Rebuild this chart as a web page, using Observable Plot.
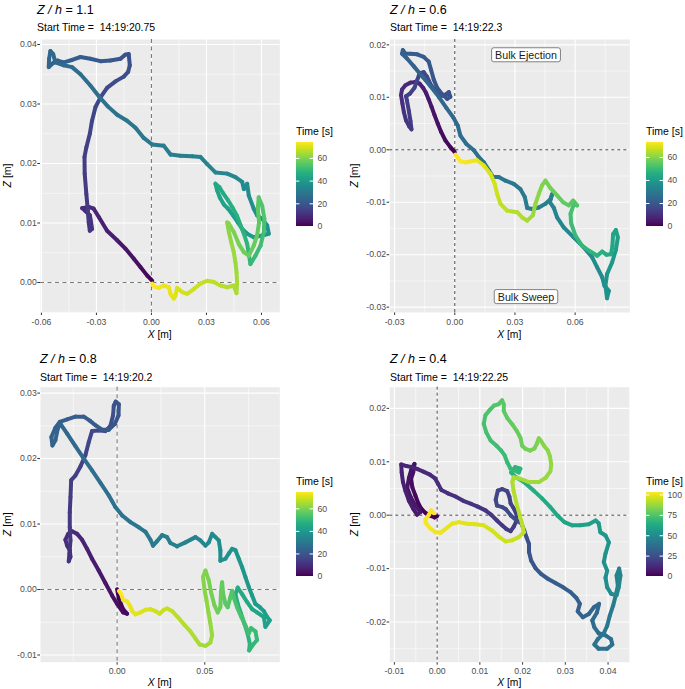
<!DOCTYPE html>
<html><head><meta charset="utf-8">
<script src="https://cdn.jsdelivr.net/npm/d3@7"></script>
<script src="https://cdn.jsdelivr.net/npm/@observablehq/plot@0.6"></script>
<style>
html,body{margin:0;padding:0;background:#fff;}
#page{position:relative;width:685px;height:689px;overflow:hidden;font-family:"Liberation Sans",Arial,Helvetica,sans-serif;}
#page g[aria-label^="x-axis"] text, #page g[aria-label^="y-axis"] text{fill:#4d4d4d;}
</style></head><body><div id="page"></div>
<script>
// ---------- DATA: trajectories [X (m), Z (m), time (s)] ----------
const track11 = [[0.0004,0.0003,0],[-0.0024,0.0012,1],[-0.0060,0.0026,2],[-0.0096,0.0040,3],[-0.0142,0.0057,4],[-0.0187,0.0071,5],[-0.0242,0.0087,6],[-0.0287,0.0110,7],[-0.0315,0.0124,8],[-0.0342,0.0127,8.5],[-0.0378,0.0125,9],[-0.0360,0.0120,9.5],[-0.0336,0.0113,10],[-0.0329,0.0101,10.5],[-0.0324,0.0090,11],[-0.0336,0.0087,11.3],[-0.0342,0.0101,11.6],[-0.0347,0.0121,12],[-0.0355,0.0149,12.5],[-0.0364,0.0183,13],[-0.0365,0.0211,13.5],[-0.0355,0.0227,14],[-0.0336,0.0250,14.5],[-0.0324,0.0272,15],[-0.0305,0.0295,15.5],[-0.0278,0.0311,16],[-0.0242,0.0327,16.5],[-0.0196,0.0338,17],[-0.0151,0.0346,17.5],[-0.0127,0.0354,18],[-0.0118,0.0365,18.3],[-0.0124,0.0384,18.6],[-0.0142,0.0383,19],[-0.0169,0.0376,19.5],[-0.0224,0.0373,20],[-0.0278,0.0372,20.5],[-0.0333,0.0376,21],[-0.0387,0.0379,21.5],[-0.0433,0.0374,22],[-0.0478,0.0370,22.3],[-0.0511,0.0373,22.6],[-0.0536,0.0369,23],[-0.0560,0.0362,23.3],[-0.0558,0.0376,23.6],[-0.0551,0.0389,24],[-0.0536,0.0384,24.3],[-0.0524,0.0370,24.6],[-0.0478,0.0365,25],[-0.0433,0.0362,25.5],[-0.0387,0.0350,26],[-0.0333,0.0331,26.5],[-0.0287,0.0313,27],[-0.0238,0.0296,27.5],[-0.0187,0.0282,28],[-0.0133,0.0272,28.5],[-0.0087,0.0260,29],[-0.0042,0.0243,29.5],[0.0004,0.0232,30],[0.0067,0.0230,30.5],[0.0104,0.0215,31],[0.0158,0.0213,31.5],[0.0222,0.0212,32],[0.0267,0.0211,32.5],[0.0304,0.0199,33],[0.0349,0.0185,33.5],[0.0413,0.0183,34],[0.0458,0.0177,34.5],[0.0495,0.0169,35],[0.0504,0.0157,35.3],[0.0522,0.0166,35.6],[0.0531,0.0146,36],[0.0558,0.0124,36.5],[0.0576,0.0113,37],[0.0604,0.0107,37.5],[0.0631,0.0096,38],[0.0640,0.0082,38.5],[0.0604,0.0079,39],[0.0558,0.0076,39.5],[0.0522,0.0082,40],[0.0495,0.0090,40.5],[0.0471,0.0101,41],[0.0445,0.0113,41.5],[0.0418,0.0124,42],[0.0395,0.0131,42.5],[0.0373,0.0143,43],[0.0358,0.0155,43.5],[0.0349,0.0166,44],[0.0371,0.0160,44.5],[0.0391,0.0150,45],[0.0416,0.0139,45.5],[0.0444,0.0125,46],[0.0467,0.0112,46.5],[0.0485,0.0097,47],[0.0504,0.0082,47.5],[0.0522,0.0065,48],[0.0531,0.0048,48.5],[0.0540,0.0031,49],[0.0567,0.0045,50],[0.0595,0.0062,51],[0.0613,0.0085,52],[0.0616,0.0107,53],[0.0604,0.0129,54],[0.0585,0.0143,54.5],[0.0580,0.0124,55],[0.0587,0.0101,55.5],[0.0576,0.0079,56],[0.0558,0.0062,56.5],[0.0531,0.0045,57],[0.0504,0.0051,57.5],[0.0476,0.0065,58],[0.0449,0.0085,59],[0.0422,0.0099,60],[0.0413,0.0101,60.5],[0.0422,0.0085,61],[0.0435,0.0068,62],[0.0449,0.0051,62.5],[0.0458,0.0034,63],[0.0464,0.0017,63.5],[0.0467,0.0001,64],[0.0464,-0.0018,64.5],[0.0449,-0.0005,65],[0.0413,-0.0008,65.5],[0.0376,-0.0005,66],[0.0340,0.0001,66.5],[0.0304,0.0003,67],[0.0267,-0.0002,67.5],[0.0231,-0.0011,68],[0.0195,-0.0019,68.5],[0.0167,-0.0016,69],[0.0140,-0.0009,69.5],[0.0131,-0.0022,70],[0.0122,-0.0027,70.5],[0.0104,-0.0019,71],[0.0095,-0.0008,71.5],[0.0067,-0.0005,72],[0.0040,-0.0009,72.5],[0.0016,-0.0007,73],[0.0004,-0.0002,74]];

const track06 = [[0.0000,-0.00045,0],[-0.0022,0.0005,0.7],[-0.0047,0.0018,1.4],[-0.0068,0.0034,2.1],[-0.0085,0.0050,2.8],[-0.0101,0.0066,3.5],[-0.0116,0.0082,4.2],[-0.0130,0.0096,4.8],[-0.0143,0.0108,5.4],[-0.0158,0.0118,6],[-0.0175,0.0126,6.6],[-0.0196,0.0129,7.2],[-0.0221,0.0128,7.8],[-0.0246,0.0123,8.4],[-0.0263,0.0115,9],[-0.0268,0.0104,9.5],[-0.0261,0.0088,10],[-0.0254,0.0072,10.5],[-0.0243,0.0056,11],[-0.0228,0.0045,11.5],[-0.0216,0.0039,12],[-0.0221,0.0055,12.4],[-0.0229,0.0074,12.8],[-0.0238,0.0093,13.2],[-0.0243,0.0102,13.6],[-0.0224,0.0107,14],[-0.0201,0.0118,14.4],[-0.0188,0.0132,14.8],[-0.0175,0.0146,15.2],[-0.0155,0.0148,15.6],[-0.0138,0.0139,16],[-0.0118,0.0123,16.4],[-0.0091,0.0110,16.8],[-0.0063,0.0103,17.2],[-0.0042,0.0106,17.6],[-0.0030,0.0110,18],[-0.0022,0.0101,18.3],[-0.0038,0.0097,18.6],[-0.0063,0.0106,18.9],[-0.0088,0.0118,19.2],[-0.0105,0.0134,19.5],[-0.0118,0.0152,19.8],[-0.0130,0.0168,20.1],[-0.0155,0.0177,20.4],[-0.0188,0.0182,20.7],[-0.0221,0.0183,21],[-0.0246,0.0183,21.3],[-0.0259,0.0190,21.6],[-0.0263,0.0183,21.9],[-0.0238,0.0174,22.2],[-0.0204,0.0159,22.6],[-0.0163,0.0140,23],[-0.0121,0.0121,23.4],[-0.0080,0.0101,23.8],[-0.0042,0.0080,24.2],[-0.0008,0.0062,24.6],[0.0015,0.0046,25],[0.0028,0.0027,25.4],[0.0058,0.0011,25.8],[0.0095,-0.0001,26.2],[0.0120,-0.0014,26.6],[0.0145,-0.0024,27],[0.0170,-0.0039,27.4],[0.0191,-0.0052,27.8],[0.0219,-0.0052,28.2],[0.0253,-0.0059,28.6],[0.0294,-0.0065,29],[0.0327,-0.0075,29.4],[0.0349,-0.0090,29.8],[0.0361,-0.0111,30.2],[0.0386,-0.0113,30.6],[0.0419,-0.0110,31],[0.0452,-0.0103,31.4],[0.0477,-0.0094,31.8],[0.0485,-0.0085,32.1],[0.0474,-0.0100,32.4],[0.0494,-0.0111,32.7],[0.0510,-0.0129,33],[0.0543,-0.0148,33.4],[0.0593,-0.0167,33.8],[0.0643,-0.0186,34.2],[0.0685,-0.0205,34.6],[0.0710,-0.0224,35],[0.0735,-0.0243,35.4],[0.0746,-0.0259,35.8],[0.0768,-0.0269,36.2],[0.0759,-0.0283,36.6],[0.0751,-0.0259,37.2],[0.0759,-0.0237,38],[0.0784,-0.0215,39],[0.0803,-0.0191,40],[0.0813,-0.0167,41],[0.0803,-0.0153,41.8],[0.0789,-0.0161,42.6],[0.0786,-0.0183,43.4],[0.0779,-0.0199,44.2],[0.0756,-0.0200,45],[0.0735,-0.0194,45.8],[0.0710,-0.0202,46.6],[0.0676,-0.0194,47.4],[0.0635,-0.0183,48.2],[0.0602,-0.0164,49],[0.0580,-0.0140,50],[0.0577,-0.0122,51],[0.0593,-0.0104,52],[0.0610,-0.0106,52.8],[0.0590,-0.0097,53.6],[0.0568,-0.0106,54.4],[0.0540,-0.0100,55.2],[0.0510,-0.0087,56],[0.0477,-0.0073,57],[0.0452,-0.0059,58],[0.0435,-0.0068,59],[0.0419,-0.0084,60],[0.0402,-0.0103,61],[0.0389,-0.0125,62],[0.0361,-0.0135,63],[0.0336,-0.0129,63.8],[0.0311,-0.0119,64.6],[0.0261,-0.0116,65.4],[0.0228,-0.0103,66.2],[0.0211,-0.0084,67],[0.0199,-0.0065,67.8],[0.0178,-0.0046,68.6],[0.0145,-0.0030,69.4],[0.0111,-0.0020,70.2],[0.0081,-0.0022,71],[0.0053,-0.0024,71.8],[0.0028,-0.0022,72.5],[0.0003,-0.0009,73]];

const track08 = [[0,0.00005,0],[0.0010,-0.0014,0.5],[0.0034,-0.0030,1],[0.0057,-0.0037,1.5],[0.0034,-0.0035,2],[0,-0.0022,2.5],[-0.0029,-0.0009,3],[-0.0067,0.0010,4],[-0.0105,0.0029,5],[-0.0143,0.0047,6],[-0.0171,0.0062,6.8],[-0.0200,0.0076,7.5],[-0.0228,0.0085,8],[-0.0257,0.0089,8.5],[-0.0279,0.0085,9],[-0.0295,0.0076,9.3],[-0.0285,0.0067,9.6],[-0.0270,0.0060,10],[-0.0266,0.0050,10.3],[-0.0276,0.0043,10.6],[-0.0272,0.0055,11],[-0.0266,0.0075,11.5],[-0.0270,0.0095,12],[-0.0270,0.0118,12.5],[-0.0266,0.0141,13],[-0.0262,0.0167,13.5],[-0.0238,0.0174,14],[-0.0209,0.0188,14.5],[-0.0181,0.0205,15],[-0.0162,0.0225,15.5],[-0.0143,0.0242,16],[-0.0105,0.0243,16.5],[-0.0067,0.0242,17],[-0.0038,0.0250,17.5],[-0.0023,0.0266,18],[-0.0019,0.0281,18.4],[-0.0008,0.0287,18.8],[0.0010,0.0283,19.1],[0.0008,0.0266,19.4],[-0.0013,0.0253,19.7],[-0.0048,0.0244,20],[-0.0086,0.0244,20.3],[-0.0124,0.0251,20.6],[-0.0156,0.0258,21],[-0.0190,0.0264,21.3],[-0.0238,0.0264,21.6],[-0.0285,0.0260,22],[-0.0327,0.0256,22.3],[-0.0352,0.0247,22.6],[-0.0375,0.0233,23],[-0.0369,0.0220,23.3],[-0.0352,0.0228,23.6],[-0.0338,0.0246,24],[-0.0323,0.0253,24.3],[-0.0285,0.0238,24.8],[-0.0238,0.0219,25.3],[-0.0190,0.0200,25.8],[-0.0143,0.0182,26.3],[-0.0095,0.0163,26.8],[-0.0048,0.0144,27.3],[-0.0010,0.0126,27.8],[0.0029,0.0113,28.3],[0.0076,0.0103,28.8],[0.0124,0.0095,29.3],[0.0162,0.0088,29.8],[0.0190,0.0076,30.3],[0.0205,0.0067,30.6],[0.0228,0.0074,31],[0.0257,0.0083,31.4],[0.0285,0.0080,31.8],[0.0304,0.0071,32.2],[0.0342,0.0066,32.6],[0.0390,0.0072,33],[0.0447,0.0080,33.5],[0.0475,0.0075,34],[0.0504,0.0067,34.4],[0.0523,0.0072,34.8],[0.0542,0.0085,35.2],[0.0561,0.0080,35.6],[0.0580,0.0075,36],[0.0589,0.0060,36.4],[0.0589,0.0044,36.8],[0.0618,0.0047,37.2],[0.0637,0.0055,37.6],[0.0656,0.0062,38],[0.0675,0.0060,38.4],[0.0694,0.0047,38.8],[0.0713,0.0034,39.2],[0.0732,0.0019,39.6],[0.0751,0.0004,40],[0.0770,-0.0009,40.4],[0.0789,-0.0022,40.8],[0.0814,-0.0027,41.2],[0.0837,-0.0033,41.6],[0.0856,-0.0042,42],[0.0871,-0.0047,42.4],[0.0846,-0.0057,42.8],[0.0837,-0.0042,43.2],[0.0798,-0.0035,43.6],[0.0770,-0.0030,44],[0.0741,-0.0019,44.5],[0.0713,-0.0007,45],[0.0688,0.0003,45.5],[0.0675,-0.0007,46],[0.0688,-0.0022,46.5],[0.0707,-0.0037,47],[0.0726,-0.0052,47.5],[0.0745,-0.0068,48],[0.0757,-0.0083,48.5],[0.0753,-0.0093,49],[0.0776,-0.0084,49.5],[0.0798,-0.0077,50],[0.0789,-0.0064,50.5],[0.0764,-0.0059,51],[0.0751,-0.0067,51.5],[0.0732,-0.0055,52],[0.0707,-0.0041,52.5],[0.0684,-0.0027,53],[0.0665,-0.0012,53.5],[0.0656,-0.0002,54],[0.0646,-0.0012,54.5],[0.0631,-0.0027,55],[0.0618,-0.0022,55.5],[0.0605,-0.0007,56],[0.0599,0.0011,56.5],[0.0593,-0.0002,57],[0.0589,-0.0027,57.5],[0.0574,-0.0035,58],[0.0555,-0.0024,58.5],[0.0536,-0.0004,59],[0.0523,0.0014,59.5],[0.0504,0.0029,60],[0.0490,0.0019,60.5],[0.0498,0.0001,61],[0.0510,-0.0017,61.5],[0.0521,-0.0035,62],[0.0532,-0.0052,62.5],[0.0542,-0.0070,63],[0.0532,-0.0081,63.5],[0.0504,-0.0086,64],[0.0471,-0.0084,64.5],[0.0447,-0.0075,65],[0.0418,-0.0064,65.5],[0.0384,-0.0054,66],[0.0346,-0.0042,66.5],[0.0314,-0.0033,67],[0.0285,-0.0029,67.5],[0.0266,-0.0031,68],[0.0243,-0.0037,68.5],[0.0219,-0.0033,69],[0.0190,-0.0030,69.5],[0.0162,-0.0031,70],[0.0133,-0.0035,70.5],[0.0105,-0.0038,71],[0.0086,-0.0033,71.5],[0.0072,-0.0024,72],[0.0057,-0.0018,72.5],[0.0034,-0.0016,73],[0.0023,-0.0007,73.5],[0.0010,-0.0002,74.5]];

const track04 = [[0,-0.0002,0],[-0.0006,-0.0004,0.4],[-0.0016,-0.0001,0.9],[-0.0027,0.0004,1.3],[-0.0037,0.0012,1.7],[-0.0044,0.0022,2.2],[-0.0051,0.0037,2.6],[-0.0058,0.0052,3],[-0.0061,0.0068,3.5],[-0.0056,0.0080,3.9],[-0.0053,0.0096,4.3],[-0.0060,0.0087,4.8],[-0.0066,0.0070,5.2],[-0.0070,0.0051,5.6],[-0.0062,0.0034,6.1],[-0.0051,0.0018,6.5],[-0.0039,0.0006,6.9],[-0.0047,0.0001,7.4],[-0.0056,0.0012,7.8],[-0.0066,0.0027,8.2],[-0.0074,0.0045,8.7],[-0.0080,0.0062,9.1],[-0.0083,0.0080,9.5],[-0.0084,0.0095,10],[-0.0072,0.0092,10.5],[-0.0059,0.0090,10.9],[-0.0045,0.0086,11.3],[-0.0031,0.0081,11.7],[-0.0017,0.0076,12.1],[-0.0005,0.0069,12.5],[0.0002,0.0059,12.9],[0.0010,0.0047,13.3],[0.0025,0.0041,13.7],[0.0043,0.0035,14.1],[0.0061,0.0027,14.5],[0.0080,0.0021,14.9],[0.0095,0.0016,15.3],[0.0113,0.0009,15.7],[0.0126,0.0001,16.1],[0.0140,-0.0010,16.5],[0.0152,-0.0019,16.9],[0.0162,-0.0026,17.3],[0.0172,-0.0030,17.7],[0.0179,-0.0022,18.1],[0.0185,-0.0012,18.5],[0.0186,0.0001,18.9],[0.0179,0.0013,19.3],[0.0172,0.0022,19.7],[0.0169,0.0035,20.1],[0.0164,0.0045,20.5],[0.0152,0.0049,20.9],[0.0142,0.0046,21.3],[0.0137,0.0029,21.7],[0.0140,0.0018,22.1],[0.0153,0.0015,22.5],[0.0161,0.0011,22.9],[0.0173,-0.0001,23.3],[0.0186,-0.0010,23.7],[0.0197,-0.0015,24.1],[0.0204,-0.0029,24.6],[0.0209,-0.0041,25.2],[0.0215,-0.0054,25.8],[0.0215,-0.0069,26.4],[0.0220,-0.0085,27],[0.0230,-0.0099,27.6],[0.0243,-0.0110,28.2],[0.0259,-0.0119,28.8],[0.0277,-0.0127,29.4],[0.0295,-0.0135,30],[0.0312,-0.0144,30.6],[0.0326,-0.0155,31.2],[0.0334,-0.0166,31.8],[0.0329,-0.0180,32.3],[0.0341,-0.0191,32.8],[0.0355,-0.0185,33.3],[0.0367,-0.0172,33.8],[0.0379,-0.0166,34.3],[0.0374,-0.0182,34.8],[0.0363,-0.0197,35.3],[0.0368,-0.0210,35.8],[0.0378,-0.0221,36.3],[0.0394,-0.0225,36.8],[0.0407,-0.0232,37.3],[0.0410,-0.0242,37.8],[0.0398,-0.0250,38.3],[0.0378,-0.0250,38.8],[0.0368,-0.0242,39.3],[0.0376,-0.0232,39.8],[0.0390,-0.0221,40.3],[0.0398,-0.0207,41],[0.0404,-0.0188,41.8],[0.0412,-0.0169,42.6],[0.0418,-0.0150,43.4],[0.0423,-0.0132,44.2],[0.0420,-0.0113,45],[0.0426,-0.0100,45.8],[0.0429,-0.0113,46.6],[0.0425,-0.0135,47.4],[0.0420,-0.0150,48.2],[0.0407,-0.0147,49],[0.0398,-0.0135,49.8],[0.0394,-0.0117,50.6],[0.0398,-0.0104,51.4],[0.0390,-0.0088,52.2],[0.0394,-0.0072,53],[0.0402,-0.0051,53.8],[0.0394,-0.0038,54.6],[0.0382,-0.0032,55.4],[0.0378,-0.0015,56.2],[0.0371,-0.0010,57],[0.0355,-0.0017,57.8],[0.0335,-0.0019,58.6],[0.0316,-0.0019,59.4],[0.0298,-0.0013,60.2],[0.0282,-0.0001,61],[0.0265,0.0015,61.8],[0.0246,0.0031,62.6],[0.0226,0.0046,63.4],[0.0203,0.0062,64.2],[0.0183,0.0072,65],[0.0173,0.0080,65.8],[0.0183,0.0090,66.5],[0.0195,0.0087,67.2],[0.0191,0.0080,67.9],[0.0172,0.0087,68.6],[0.0164,0.0099,69.2],[0.0158,0.0112,69.8],[0.0150,0.0121,70.4],[0.0139,0.0130,71],[0.0125,0.0140,71.6],[0.0115,0.0155,72.2],[0.0109,0.0171,72.8],[0.0113,0.0187,73.4],[0.0122,0.0196,74],[0.0133,0.0205,74.6],[0.0144,0.0208,75.2],[0.0152,0.0215,75.8],[0.0156,0.0207,76.4],[0.0156,0.0195,77],[0.0164,0.0182,77.6],[0.0176,0.0170,78.2],[0.0187,0.0157,78.8],[0.0195,0.0145,79.4],[0.0199,0.0130,80],[0.0207,0.0124,80.6],[0.0218,0.0121,81.2],[0.0228,0.0125,81.8],[0.0234,0.0135,82.4],[0.0238,0.0144,83],[0.0243,0.0139,83.6],[0.0251,0.0129,84.2],[0.0259,0.0121,84.8],[0.0264,0.0110,85.4],[0.0267,0.0095,86],[0.0265,0.0082,86.6],[0.0254,0.0070,87.2],[0.0238,0.0062,87.8],[0.0215,0.0062,88.4],[0.0195,0.0068,89],[0.0179,0.0071,89.6],[0.0176,0.0062,90.2],[0.0179,0.0045,90.8],[0.0186,0.0021,91.4],[0.0193,0.0001,92],[0.0199,-0.0017,92.6],[0.0203,-0.0032,93.2],[0.0191,-0.0041,93.8],[0.0176,-0.0047,94.4],[0.0160,-0.0049,95],[0.0144,-0.0040,95.6],[0.0129,-0.0029,96.2],[0.0109,-0.0019,96.8],[0.0090,-0.0017,97.4],[0.0070,-0.0016,98],[0.0051,-0.0013,98.5],[0.0035,-0.0016,99],[0.0022,-0.0024,99.5],[0.0008,-0.0033,100],[-0.0004,-0.0032,100.5],[-0.0017,-0.0024,101],[-0.0027,-0.0014,101.5],[-0.0027,-0.0007,102],[-0.0019,0.0001,102.4],[-0.0014,0.0009,102.8],[-0.0008,0.0004,103]];

// ---------- DATA: labels, axes, ticks ----------
const zOverH = ["1.1", "0.6", "0.8", "0.4"];
const startTimes = ["14:19:20.75", "14:19:22.3", "14:19:20.2", "14:19:22.25"];
const notes06Label = ["Bulk Ejection", "Bulk Sweep"];
const notes06X = [0.0355, 0.0355];
const notes06Z = [0.0180, -0.0281];

const xDomain11 = [-0.0605, 0.0700], yDomain11 = [-0.00504, 0.04084];
const xDomain06 = [-0.0324, 0.08725], yDomain06 = [-0.03102, 0.02102];
const xDomain08 = [-0.0437, 0.0928], yDomain08 = [-0.0111, 0.0309];
const xDomain04 = [-0.01108, 0.04509], yDomain04 = [-0.02752, 0.02396];

const xMajor11 = [-0.06, -0.03, 0, 0.03, 0.06], xMinor11 = [-0.045, -0.015, 0.015, 0.045];
const yMajor11 = [0, 0.01, 0.02, 0.03, 0.04], yMinor11 = [-0.005, 0.005, 0.015, 0.025, 0.035];
const xMajor06 = [-0.03, 0, 0.03, 0.06], xMinor06 = [-0.015, 0.015, 0.045, 0.075];
const yMajor06 = [-0.03, -0.02, -0.01, 0, 0.01, 0.02], yMinor06 = [-0.025, -0.015, -0.005, 0.005, 0.015];
const xMajor08 = [0, 0.05], xMinor08 = [-0.025, 0.025, 0.075];
const yMajor08 = [-0.01, 0, 0.01, 0.02, 0.03], yMinor08 = [-0.005, 0.005, 0.015, 0.025];
const xMajor04 = [-0.01, 0, 0.01, 0.02, 0.03, 0.04], xMinor04 = [-0.005, 0.005, 0.015, 0.025, 0.035, 0.045];
const yMajor04 = [-0.02, -0.01, 0, 0.01, 0.02], yMinor04 = [-0.025, -0.015, -0.005, 0.005, 0.015];

const legendTicks70 = [0, 20, 40, 60];
const legendTicks100 = [0, 25, 50, 75, 100];

// ---------- RENDER ----------
const W = 685, H = 689;
const FONT = '"Liberation Sans", Arial, Helvetica, sans-serif';
const page = document.getElementById("page");
const fmt2 = d => d.toFixed(2);

function segmentsOf(track) {
  const out = [];
  for (let i = 1; i < track.length; i++) {
    const a = track[i - 1], b = track[i];
    out.push({x1: a[0], y1: a[1], x2: b[0], y2: b[1], t: (a[2] + b[2]) / 2});
  }
  return out;
}
function place(el, left, top) {
  el.style.position = "absolute";
  el.style.left = left + "px";
  el.style.top = top + "px";
  page.appendChild(el);
  return el;
}

const panels = [
  {track: track11, h: zOverH[0], start: startTimes[0], xd: xDomain11, yd: yDomain11, xM: xMajor11, xm: xMinor11, yM: yMajor11, ym: yMinor11, lt: legendTicks70,
   box: {left: 0, top: 0, width: 290, height: 340, mL: 40, mR: 10.7, mT: 39, mB: 28}, leg: {left: 296, top: 138},
   tx: 37, ty: 14, sy: 30.7, xt: [159.7, 337.5], yt: [10.5, 175.5], lty: 135, ltx: 296, dark: false},
  {track: track06, h: zOverH[1], start: startTimes[1], xd: xDomain06, yd: yDomain06, xM: xMajor06, xm: xMinor06, yM: yMajor06, ym: yMinor06, lt: legendTicks70,
   box: {left: 345, top: 0, width: 295, height: 340, mL: 44.3, mR: 10.7, mT: 39, mB: 28}, leg: {left: 646, top: 138},
   tx: 390, ty: 14, sy: 30.7, xt: [509.3, 337.5], yt: [358.3, 175.5], lty: 135, ltx: 646, dark: true,
   notes: notes06Label.map((label, i) => ({label, x: notes06X[i], z: notes06Z[i]}))},
  {track: track08, h: zOverH[2], start: startTimes[2], xd: xDomain08, yd: yDomain08, xM: xMajor08, xm: xMinor08, yM: yMajor08, ym: yMinor08, lt: legendTicks70,
   box: {left: 0, top: 345, width: 290, height: 344, mL: 40, mR: 10.7, mT: 41.7, mB: 27.3}, leg: {left: 296, top: 487.7},
   tx: 40, ty: 363.3, sy: 380.7, xt: [159.7, 686.3], yt: [10.5, 524.2], lty: 485, ltx: 296, dark: false},
  {track: track04, h: zOverH[3], start: startTimes[3], xd: xDomain04, yd: yDomain04, xM: xMajor04, xm: xMinor04, yM: yMajor04, ym: yMinor04, lt: legendTicks100,
   box: {left: 345, top: 345, width: 295, height: 344, mL: 44.3, mR: 10.7, mT: 41.7, mB: 27.3}, leg: {left: 646, top: 487.7},
   tx: 390, ty: 363.3, sy: 380.7, xt: [509.3, 686.3], yt: [358.3, 524.2], lty: 485, ltx: 646, dark: true}
];

const baseStyle = {fontFamily: FONT, fontSize: "8.7px", color: "#333333", background: "transparent", overflow: "visible"};

panels.forEach(p => {
  const tmax = d3.max(p.track, d => d[2]);
  const dashOpts = p.dark
    ? {stroke: "#111", strokeWidth: 0.75, strokeDasharray: "3,3"}
    : {stroke: "#7a7a7a", strokeWidth: 1.1, strokeDasharray: "4,3.5"};
  const marks = [
    Plot.frame({fill: "#EBEBEB", stroke: "none"}),
    Plot.ruleX(p.xm, {stroke: "#ffffff", strokeWidth: 0.55}),
    Plot.ruleY(p.ym, {stroke: "#ffffff", strokeWidth: 0.55}),
    Plot.ruleX(p.xM, {stroke: "#ffffff", strokeWidth: 1.1}),
    Plot.ruleY(p.yM, {stroke: "#ffffff", strokeWidth: 1.1}),
    Plot.ruleX([0], dashOpts),
    Plot.ruleY([0], dashOpts),
    Plot.link(segmentsOf(p.track), {x1: "x1", y1: "y1", x2: "x2", y2: "y2", stroke: "t", strokeWidth: 4, strokeLinecap: "round"})
  ];
  if (p.notes) marks.push(Plot.text(p.notes, {x: "x", y: "z", text: "label", fontSize: 10.7, fill: "#1a1a1a"}));
  const b = p.box;
  const svg = Plot.plot({
    width: b.width, height: b.height,
    marginLeft: b.mL, marginRight: b.mR, marginTop: b.mT, marginBottom: b.mB,
    x: {domain: p.xd, ticks: p.xM, tickFormat: fmt2, tickSize: 3, tickPadding: 3, label: null},
    y: {domain: p.yd, ticks: p.yM, tickFormat: fmt2, tickSize: 2.7, tickPadding: 1, label: null},
    color: {type: "linear", scheme: "viridis", domain: [0, tmax]},
    style: baseStyle,
    marks
  });
  place(svg, b.left, b.top);

  // white label boxes behind annotation text (geom_label look)
  if (p.notes) {
    svg.querySelectorAll('g[aria-label="text"] text').forEach(t => {
      const bb = t.getBBox();
      const r = document.createElementNS("http://www.w3.org/2000/svg", "rect");
      r.setAttribute("x", bb.x - 3.5); r.setAttribute("y", bb.y - 1);
      r.setAttribute("width", bb.width + 7); r.setAttribute("height", bb.height + 2);
      r.setAttribute("rx", 2.2); r.setAttribute("fill", "#ffffff");
      r.setAttribute("stroke", "#333333"); r.setAttribute("stroke-width", 0.6);
      if (t.getAttribute("transform")) r.setAttribute("transform", t.getAttribute("transform"));
      t.parentNode.insertBefore(r, t);
    });
  }

  // colour bar legend
  const n = 150;
  const stops = d3.range(n).map(i => ({a: tmax * i / n, b: Math.min(tmax, tmax * (i + 1.6) / n), t: tmax * (i + 0.5) / n}));
  const ticks = p.lt.filter(v => v <= tmax);
  const leg = Plot.plot({
    width: 50, height: 94, marginTop: 4, marginBottom: 6, marginLeft: 0, marginRight: 33,
    x: {domain: [0, 1], axis: null},
    y: {domain: [0, tmax], axis: "right", ticks: ticks, tickSize: 0, tickPadding: 4, label: null},
    color: {type: "linear", scheme: "viridis", domain: [0, tmax]},
    style: baseStyle,
    marks: [
      Plot.rect(stops, {x1: () => 0, x2: () => 1, y1: "a", y2: "b", fill: "t", shapeRendering: "crispEdges"}),
      Plot.ruleY(ticks, {x1: () => 0, x2: () => 0.2, stroke: "#ffffff", strokeWidth: 1}),
      Plot.ruleY(ticks, {x1: () => 0.8, x2: () => 1, stroke: "#ffffff", strokeWidth: 1})
    ]
  });
  place(leg, p.leg.left, p.leg.top);
});

// ---------- text overlay (titles, subtitles, axis titles, legend titles) ----------
const ov = d3.create("svg").attr("width", W).attr("height", H)
  .attr("style", "position:absolute;left:0;top:0;pointer-events:none;overflow:visible")
  .attr("font-family", FONT);
function txt(parts, opts) {
  const t = ov.append("text").attr("font-size", opts.size).attr("fill", opts.fill || "#000").style("white-space", "pre");
  if (opts.transform) t.attr("transform", opts.transform); else t.attr("x", opts.x).attr("y", opts.y);
  if (opts.anchor) t.attr("text-anchor", opts.anchor);
  parts.forEach(([s, it]) => { const sp = t.append("tspan").text(s); if (it) sp.attr("font-style", "italic"); });
}
panels.forEach(p => {
  txt([["Z", true], [" / ", true], ["h", true], [" = " + p.h, false]], {x: p.tx, y: p.ty, size: 12.5});
  txt([["Start Time =  " + p.start, false]], {x: p.tx, y: p.sy, size: 10.5});
  txt([["X", true], [" [m]", false]], {x: p.xt[0], y: p.xt[1], size: 10.3, anchor: "middle"});
  txt([["Z", true], [" [m]", false]], {transform: `translate(${p.yt[0]},${p.yt[1]}) rotate(-90)`, size: 10.5, anchor: "middle"});
  txt([["Time [s]", false]], {x: p.ltx, y: p.lty, size: 10.5});
});
page.appendChild(ov.node());
</script></body></html>
